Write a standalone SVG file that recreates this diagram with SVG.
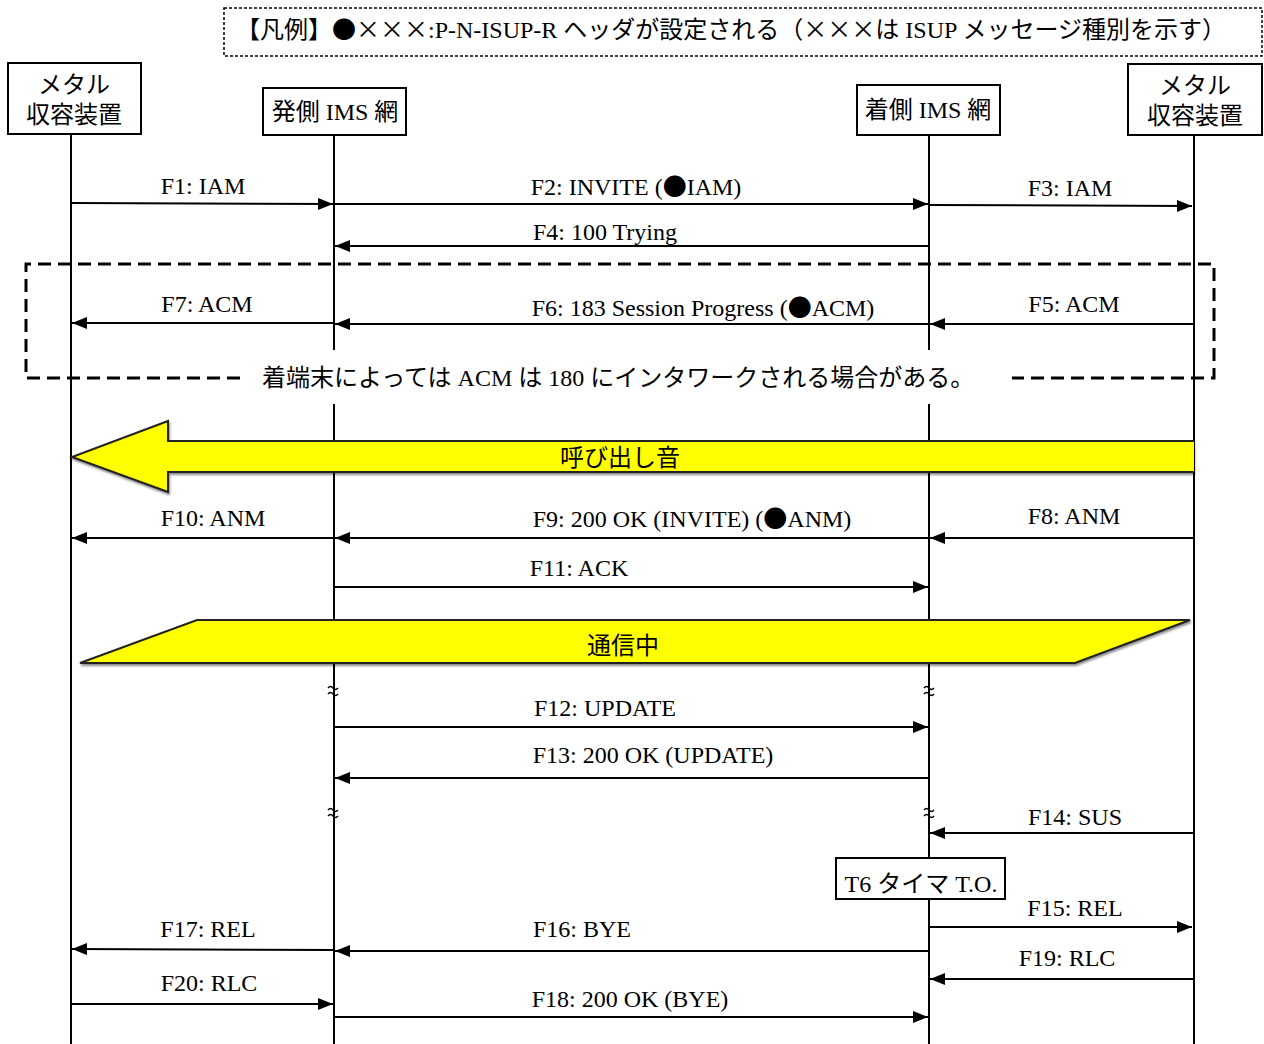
<svg xmlns="http://www.w3.org/2000/svg" width="1264" height="1044" viewBox="0 0 1264 1044">
<style>
text{font-family:"Liberation Serif","Noto Sans CJK JP",serif;font-size:24px;fill:#000}
.m{text-anchor:middle}
.j{font-family:"Noto Sans CJK JP","Liberation Serif",sans-serif}
.box{fill:#fff;stroke:#000;stroke-width:2}
.life{stroke:#000;stroke-width:2}
.msg{stroke:#000;stroke-width:2;fill:none;marker-end:url(#ah)}
.brk{stroke:#000;stroke-width:1.5;fill:none}
.yel{fill:#ffff00;stroke:#222;stroke-width:2}
</style>
<defs>
<marker id="ah" markerUnits="userSpaceOnUse" markerWidth="16" markerHeight="12" refX="15" refY="6" orient="auto">
<path d="M0,0 L15,6 L0,12 z" fill="#000"/>
</marker>
<filter id="sh" x="-5%" y="-20%" width="110%" height="150%">
<feDropShadow dx="1" dy="2" stdDeviation="1.2" flood-color="#000" flood-opacity="0.45"/>
</filter>
</defs>

<g id="legend">
<rect x="224" y="8" width="1038" height="48" fill="none" stroke="#000" stroke-width="1.5" stroke-dasharray="3,2"/>
<text x="236" y="38">【凡例】<tspan class="j">●×××</tspan>:P-N-ISUP-R ヘッダが設定される（<tspan class="j">×××</tspan>は ISUP メッセージ種別を示す）</text>
</g>

<g id="lifelines">
<line class="life" x1="71" y1="134" x2="71" y2="1044"/>
<line class="life" x1="334" y1="135" x2="334" y2="1044"/>
<line class="life" x1="929" y1="135" x2="929" y2="1044"/>
<line class="life" x1="1194" y1="135" x2="1194" y2="1044"/>
</g>

<g id="node-metal-left">
<rect class="box" x="8" y="63" width="133" height="71"/>
<text class="m" x="74" y="93">メタル</text>
<text class="m" x="74" y="123">収容装置</text>
</g>
<g id="node-orig-ims">
<rect class="box" x="263" y="88" width="143" height="47"/>
<text class="m" x="335" y="120">発側 IMS 網</text>
</g>
<g id="node-term-ims">
<rect class="box" x="857" y="85" width="143" height="50"/>
<text class="m" x="928" y="118">着側 IMS 網</text>
</g>
<g id="node-metal-right">
<rect class="box" x="1128" y="64" width="134" height="71"/>
<text class="m" x="1195" y="94">メタル</text>
<text class="m" x="1195" y="124">収容装置</text>
</g>

<g id="note-acm">
<rect x="240" y="350" width="772" height="54" fill="#fff"/>
<path d="M240,378 H26 V264 H1214 V378 H1012" fill="none" stroke="#000" stroke-width="3" stroke-dasharray="13,7"/>
<text x="262" y="386" fill="#222">着端末によっては ACM は 180 にインタワークされる場合がある。</text>
</g>

<g id="ringback">
<path class="yel" d="M1194,441 H168 V421 L72,457 L168,492 V472 H1194" filter="url(#sh)"/>
<text class="m" x="620" y="466">呼び出し音</text>
</g>

<g id="talking">
<path class="yel" d="M80,663 L197,620 H1190 L1075,663 Z" filter="url(#sh)"/>
<text class="m" x="623" y="654">通信中</text>
</g>

<g id="breaks">
<path class="brk" d="M328,688 q2.5,-3 5,0 t5,0 M328,694 q2.5,-3 5,0 t5,0"/>
<path class="brk" d="M924,688 q2.5,-3 5,0 t5,0 M924,694 q2.5,-3 5,0 t5,0"/>
<path class="brk" d="M328,810 q2.5,-3 5,0 t5,0 M328,816 q2.5,-3 5,0 t5,0"/>
<path class="brk" d="M924,810 q2.5,-3 5,0 t5,0 M924,816 q2.5,-3 5,0 t5,0"/>
</g>

<g id="t6-timer">
<rect class="box" x="836" y="858" width="169" height="41" stroke-width="1.5"/>
<text class="m" x="921" y="892">T6 タイマ T.O.</text>
</g>

<g id="connectors">
<line class="msg" x1="71" y1="203" x2="333" y2="204"/>
<line class="msg" x1="334" y1="204" x2="928" y2="204"/>
<line class="msg" x1="929" y1="205" x2="1192" y2="206"/>
<line class="msg" x1="929" y1="246" x2="335" y2="246"/>
<line class="msg" x1="334" y1="323" x2="72" y2="323"/>
<line class="msg" x1="929" y1="324" x2="335" y2="324"/>
<line class="msg" x1="1194" y1="324" x2="930" y2="324"/>
<line class="msg" x1="334" y1="538" x2="72" y2="538"/>
<line class="msg" x1="929" y1="538" x2="335" y2="538"/>
<line class="msg" x1="1194" y1="538" x2="930" y2="538"/>
<line class="msg" x1="334" y1="587" x2="928" y2="587"/>
<line class="msg" x1="334" y1="727" x2="928" y2="727"/>
<line class="msg" x1="929" y1="778" x2="335" y2="778"/>
<line class="msg" x1="1194" y1="833" x2="930" y2="833"/>
<line class="msg" x1="929" y1="927" x2="1192" y2="927"/>
<line class="msg" x1="334" y1="950" x2="72" y2="949"/>
<line class="msg" x1="929" y1="951" x2="335" y2="951"/>
<line class="msg" x1="1194" y1="979" x2="930" y2="979"/>
<line class="msg" x1="71" y1="1004" x2="333" y2="1004"/>
<line class="msg" x1="334" y1="1017" x2="928" y2="1017"/>
<text class="m" x="203" y="194">F1: IAM</text>
<text class="m" x="636" y="195">F2: INVITE (<tspan class="j">●</tspan>IAM)</text>
<text class="m" x="1070" y="196">F3: IAM</text>
<text class="m" x="605" y="240">F4: 100 Trying</text>
<text class="m" x="207" y="312">F7: ACM</text>
<text class="m" x="703" y="316">F6: 183 Session Progress (<tspan class="j">●</tspan>ACM)</text>
<text class="m" x="1074" y="312">F5: ACM</text>
<text class="m" x="213" y="526">F10: ANM</text>
<text class="m" x="692" y="527">F9: 200 OK (INVITE) (<tspan class="j">●</tspan>ANM)</text>
<text class="m" x="1074" y="524">F8: ANM</text>
<text class="m" x="579" y="576">F11: ACK</text>
<text class="m" x="605" y="716">F12: UPDATE</text>
<text class="m" x="653" y="763">F13: 200 OK (UPDATE)</text>
<text class="m" x="1075" y="825">F14: SUS</text>
<text class="m" x="1075" y="916">F15: REL</text>
<text class="m" x="208" y="937">F17: REL</text>
<text class="m" x="582" y="937">F16: BYE</text>
<text class="m" x="1067" y="966">F19: RLC</text>
<text class="m" x="209" y="991">F20: RLC</text>
<text class="m" x="630" y="1007">F18: 200 OK (BYE)</text>
</g>
</svg>
